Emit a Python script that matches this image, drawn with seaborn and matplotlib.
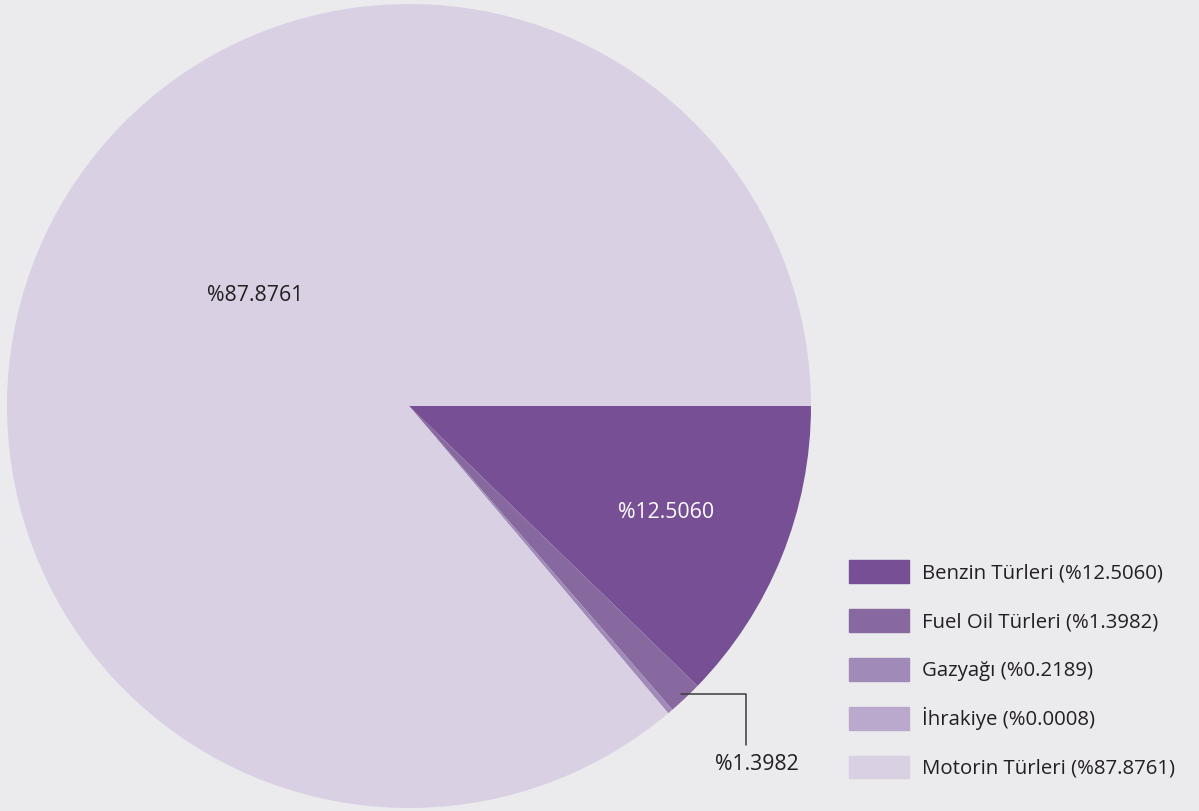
import numpy as np
import matplotlib
matplotlib.use("Agg")
import matplotlib.pyplot as plt
import seaborn as sns

# fuel types and their shares (%) as labelled in the chart
fuel_types = ["Benzin Türleri", "Fuel Oil Türleri", "Gazyağı", "İhrakiye", "Motorin Türleri"]
shares = [12.5060, 1.3982, 0.2189, 0.0008, 87.8761]
share_labels = ["%12.5060", "%1.3982", "%0.2189", "%0.0008", "%87.8761"]
colors = ["#774f94", "#8769a0", "#a08ab7", "#bba8cd", "#d9d0e3"]

bg = "#ebebee"
text_col = "#231f20"

sns.set_theme(style="white", rc={"figure.facecolor": bg, "axes.facecolor": bg})
plt.rcParams["font.family"] = ["Open Sans", "DejaVu Sans"]

fig = plt.figure(figsize=(11.99, 8.11), dpi=100)
ax = fig.add_axes([7 / 1199, 3 / 811, 804 / 1199, 804 / 811])

wedges, _ = ax.pie(shares, colors=colors, startangle=0, counterclock=False,
                   radius=1, wedgeprops={"linewidth": 0})
ax.set_xlim(-1, 1)
ax.set_ylim(-1, 1)
ax.set_aspect("equal")
ax.axis("off")


def mid_point(w, r):
    ang = np.deg2rad((w.theta1 + w.theta2) / 2)
    return r * np.cos(ang), r * np.sin(ang)


# inside labels
ax.text(0.639, -0.266, share_labels[0], color="white", fontsize=15.3, ha="center", va="center")
ax.text(-0.383, 0.274, share_labels[4], color=text_col, fontsize=15.3, ha="center", va="center")

# leader line for fuel oil
x, y = mid_point(wedges[1], 0.985)
ax.plot([x, 0.838, 0.838], [y, y, -0.843], color="#3a3a3a", lw=1.1, clip_on=False)
ax.text(0.866, -0.893, share_labels[1], color=text_col, fontsize=15.3, ha="center", va="center")

# legend
handles = [plt.Rectangle((0, 0), 1, 1, color=c) for c in colors]
labels = [f"{n} ({s})" for n, s in zip(fuel_types, share_labels)]
fig.legend(handles, labels, loc="upper left", bbox_to_anchor=(831 / 1199, 1 - 542 / 811),
           frameon=False, fontsize=14.7, handlelength=2.9, handleheight=1.35,
           labelspacing=1.25, handletextpad=0.68, labelcolor=text_col)

fig.savefig("out.png", dpi=100, facecolor=bg)
